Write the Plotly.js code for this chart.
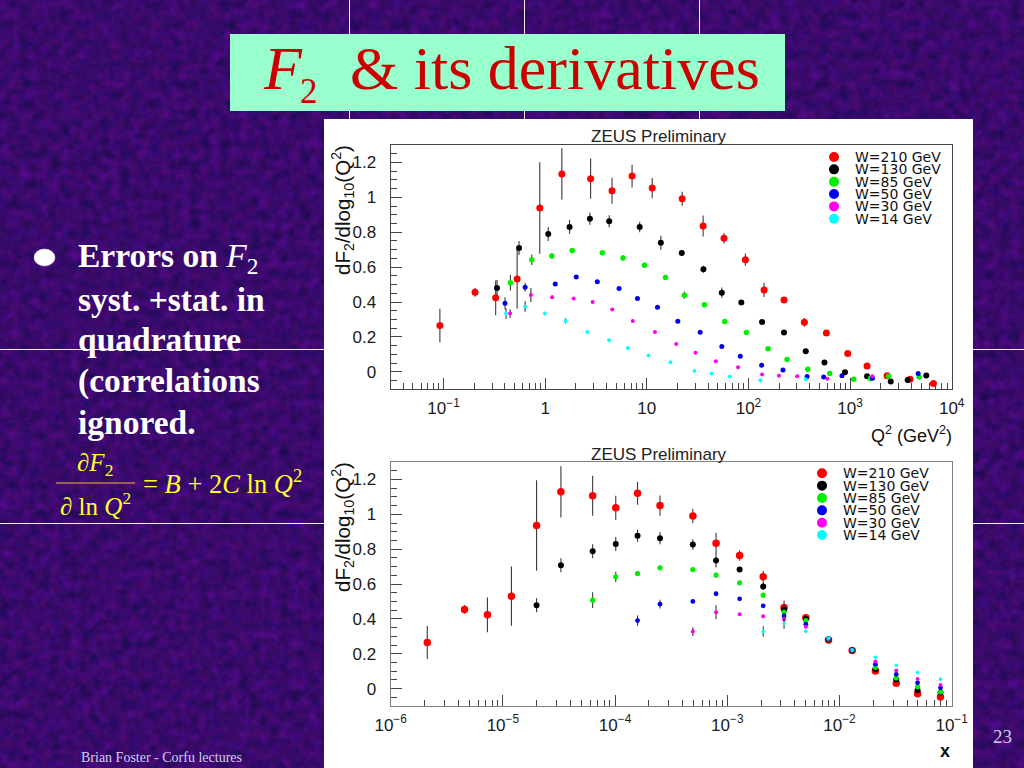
<!DOCTYPE html>
<html>
<head>
<meta charset="utf-8">
<script src="https://cdn.plot.ly/plotly-3.0.1.min.js"></script>
<style>
html,body{margin:0;padding:0;width:1024px;height:768px;overflow:hidden;background:#3a0a70;}
#bg{position:absolute;left:0;top:0;width:1024px;height:768px;}
#chart{position:absolute;left:0;top:0;width:1024px;height:768px;}
</style>
</head>
<body>
<svg id="bg" width="1024" height="768" xmlns="http://www.w3.org/2000/svg">
  <filter id="mottle" x="0" y="0" width="100%" height="100%" color-interpolation-filters="sRGB">
    <feTurbulence type="fractalNoise" baseFrequency="0.1" numOctaves="4" seed="11"/>
    <feColorMatrix type="matrix" values="0.25 0.1 0 0 0.05  0 0 0 0 0.04  0.15 0.22 0 0 0.24  0 0 0 0 1"/>
  </filter>
  <rect width="1024" height="768" filter="url(#mottle)"/>
</svg>
<div id="chart"></div>
<script>
// ---------- upper panel: dF2/dlog10(Q2) against Q2, values read as log10(Q2)
var logQ210 = [-1.036,-0.69,-0.487,-0.276,-0.053,0.164,0.447,0.658,0.855,1.053,1.348,1.554,1.76,1.97,2.154,2.35,2.55,2.767,2.977,3.167,3.364,3.59,3.82];
var valQ210 = [0.265,0.456,0.424,0.532,0.939,1.134,1.107,1.038,1.122,1.053,0.992,0.836,0.765,0.643,0.469,0.412,0.284,0.223,0.105,0.034,-0.023,-0.042,-0.067];
var errQ210 = [0.096,0.025,0.1,0.17,0.262,0.147,0.115,0.075,0.065,0.058,0.04,0.06,0.03,0.035,0.04,0.012,0.025,0.01,0.008,0.008,0.008,0.008,0.008];
var logQ130 = [-0.474,-0.257,0.03,0.24,0.44,0.63,0.93,1.138,1.344,1.557,1.738,1.93,2.134,2.35,2.564,2.748,2.95,3.167,3.40,3.567,3.75];
var valQ130 = [0.481,0.71,0.79,0.83,0.878,0.863,0.83,0.74,0.681,0.588,0.454,0.397,0.286,0.225,0.118,0.053,-0.002,-0.025,-0.055,-0.046,-0.021];
var errQ130 = [0.045,0.04,0.04,0.04,0.035,0.035,0.03,0.04,0.015,0.02,0.03,0.01,0.01,0.008,0.008,0.008,0.008,0.008,0.008,0.008,0.008];
var logQ85 = [-0.342,-0.132,0.066,0.266,0.5625,0.766,0.977,1.184,1.37,1.567,1.767,1.98,2.193,2.38,2.584,2.8,3.036,3.2,3.38,3.68];
var valQ85 = [0.511,0.643,0.664,0.695,0.683,0.653,0.611,0.54,0.439,0.385,0.288,0.225,0.132,0.071,0.015,-0.01,-0.042,-0.038,-0.025,-0.029];
var errQ85 = [0.045,0.03,0.015,0.015,0.012,0.015,0.015,0.01,0.02,0.012,0.008,0.008,0.008,0.008,0.008,0.008,0.008,0.008,0.008,0.008];
var logQ50 = [-0.395,-0.197,0.099,0.306,0.513,0.727,0.908,1.105,1.305,1.525,1.738,1.92,2.13,2.34,2.577,2.74,2.92,3.22,3.67];
var valQ50 = [0.393,0.485,0.504,0.544,0.517,0.477,0.42,0.37,0.29,0.227,0.145,0.09,0.038,0.01,-0.027,-0.03,-0.023,-0.036,-0.01];
var errQ50 = [0.035,0.025,0.01,0.008,0.006,0.01,0.01,0.006,0.006,0.006,0.006,0.006,0.006,0.006,0.006,0.006,0.006,0.006,0.006];
var logQ30 = [-0.345,-0.141,0.069,0.28,0.467,0.66,0.862,1.08,1.289,1.479,1.679,1.898,2.134,2.30,2.48,2.777,3.22];
var valQ30 = [0.334,0.44,0.427,0.42,0.40,0.357,0.292,0.229,0.16,0.109,0.061,0.027,-0.015,-0.023,-0.025,-0.04,-0.025];
var errQ30 = [0.025,0.04,0.01,0.006,0.006,0.006,0.006,0.006,0.006,0.006,0.006,0.006,0.006,0.006,0.006,0.006,0.006];
var logQ14 = [-0.385,-0.197,-0.003,0.2,0.414,0.628,0.8125,1.016,1.233,1.469,1.636,1.816,2.118,2.564];
var valQ14 = [0.334,0.374,0.334,0.292,0.229,0.181,0.137,0.094,0.055,0.006,-0.01,-0.027,-0.048,-0.042];
var errQ14 = [0.03,0.03,0.01,0.015,0.005,0.005,0.005,0.005,0.005,0.005,0.005,0.005,0.005,0.005];

// ---------- lower panel: dF2/dlog10(Q2) against x, values read as log10(x)
var logX210 = [-5.674,-5.342,-5.138,-4.924,-4.70,-4.483,-4.20,-3.994,-3.80,-3.60,-3.307,-3.10,-2.89,-2.68,-2.494,-2.30,-2.098,-1.887,-1.68,-1.494,-1.304,-1.10];
var valX210 = [0.264,0.454,0.423,0.53,0.936,1.129,1.106,1.037,1.12,1.05,0.99,0.834,0.764,0.641,0.465,0.406,0.278,0.218,0.101,0.031,-0.029,-0.048];
var errX210 = [0.095,0.025,0.1,0.17,0.26,0.147,0.115,0.07,0.065,0.058,0.04,0.06,0.03,0.035,0.04,0.012,0.008,0.008,0.008,0.008,0.008,0.008];
var logX130 = [-4.70,-4.483,-4.2,-3.994,-3.8,-3.6,-3.307,-3.10,-2.89,-2.68,-2.494,-2.30,-2.098,-1.887,-1.68,-1.494,-1.304,-1.10];
var valX130 = [0.478,0.708,0.788,0.829,0.877,0.863,0.827,0.735,0.683,0.586,0.454,0.40,0.281,0.218,0.111,0.052,-0.01,-0.023];
var errX130 = [0.04,0.04,0.04,0.04,0.035,0.035,0.03,0.04,0.015,0.02,0.03,0.01,0.008,0.008,0.008,0.008,0.008,0.008];
var logX85 = [-4.2,-3.994,-3.8,-3.6,-3.307,-3.10,-2.89,-2.68,-2.494,-2.30,-2.098,-1.887,-1.68,-1.494,-1.304,-1.10];
var valX85 = [0.507,0.641,0.66,0.693,0.683,0.651,0.607,0.536,0.438,0.39,0.285,0.22,0.122,0.061,0.01,-0.019];
var errX85 = [0.045,0.03,0.012,0.012,0.012,0.015,0.008,0.008,0.02,0.008,0.008,0.008,0.008,0.008,0.008,0.008];
var logX50 = [-3.8,-3.6,-3.307,-3.10,-2.89,-2.68,-2.494,-2.30,-2.098,-1.887,-1.68,-1.494,-1.304,-1.10];
var valX50 = [0.39,0.484,0.50,0.544,0.515,0.475,0.417,0.369,0.285,0.22,0.14,0.082,0.033,0.004];
var errX50 = [0.03,0.025,0.008,0.008,0.006,0.006,0.015,0.006,0.006,0.006,0.006,0.006,0.006,0.006];
var logX30 = [-3.307,-3.10,-2.89,-2.68,-2.494,-2.30,-2.098,-1.887,-1.68,-1.494,-1.304,-1.10];
var valX30 = [0.327,0.438,0.427,0.415,0.398,0.354,0.285,0.22,0.155,0.103,0.055,0.021];
var errX30 = [0.025,0.04,0.006,0.006,0.025,0.006,0.006,0.006,0.006,0.006,0.006,0.006];
var logX14 = [-2.68,-2.494,-2.30,-2.098,-1.887,-1.68,-1.494,-1.304,-1.10];
var valX14 = [0.327,0.373,0.329,0.289,0.222,0.18,0.134,0.092,0.054];
var errX14 = [0.03,0.03,0.008,0.006,0.006,0.006,0.006,0.006,0.006];

// tick positions and labels of the two log axes
var q2TickVals = [0.1,1,10,100,1000,10000];
var q2TickText = ['10<sup>\u22121</sup>','1','10','10<sup>2</sup>','10<sup>3</sup>','10<sup>4</sup>'];
var xTickVals = [1e-6,1e-5,1e-4,1e-3,1e-2,1e-1];
var xTickText = ['10<sup>\u22126</sup>','10<sup>\u22125</sup>','10<sup>\u22124</sup>','10<sup>\u22123</sup>','10<sup>\u22122</sup>','10<sup>\u22121</sup>'];

var seriesNames = ['W=210 GeV','W=130 GeV','W=85 GeV','W=50 GeV','W=30 GeV','W=14 GeV'];
var seriesColors = ['#ff0000','#000000','#00ee00','#0000ee','#ff00ee','#00ffff'];
var sizesTop = [7,6,5.5,5,4,3.8];
var sizesBot = [7.5,6,5.2,4.8,4,3.6];
var upperSets = [[logQ210,valQ210,errQ210],[logQ130,valQ130,errQ130],[logQ85,valQ85,errQ85],[logQ50,valQ50,errQ50],[logQ30,valQ30,errQ30],[logQ14,valQ14,errQ14]];
var lowerSets = [[logX210,valX210,errX210],[logX130,valX130,errX130],[logX85,valX85,errX85],[logX50,valX50,errX50],[logX30,valX30,errX30],[logX14,valX14,errX14]];

var W = 1024, H = 768;
function px(x){return x/W;}
function py(y){return 1-y/H;}

function makeTrace(set,i,xa,ya,sizes){
  return {
    type:'scatter', mode:'markers', name:seriesNames[i], xaxis:xa, yaxis:ya, showlegend:false,
    x:set[0].map(function(v){return Math.pow(10,v);}), y:set[1],
    error_y:{type:'data', array:set[2], visible:true, color:'#3a3a3a', thickness:1.1, width:0},
    marker:{color:seriesColors[i], size:sizes[i], line:{width:0}}
  };
}
var traces = [];
upperSets.forEach(function(s,i){traces.push(makeTrace(s,i,'x','y',sizesTop));});
lowerSets.forEach(function(s,i){traces.push(makeTrace(s,i,'x2','y2',sizesBot));});

var sans = '"Liberation Sans", Arial, sans-serif';
var serif = '"Liberation Serif", "Times New Roman", serif';
function minorLogTicks(lo,hi){
  var out = [];
  for (var d=lo; d<hi; d++) for (var m=2; m<=9; m++) out.push(m*Math.pow(10,d));
  return out;
}
function xAxis(range,domain,anchor,col,vals,text){
  return {type:'log', range:range, domain:domain, anchor:anchor, tickmode:'array', tickvals:vals, ticktext:text,
    ticks:'inside', ticklen:11, tickwidth:1.2, tickcolor:'#444', showgrid:false, zeroline:false,
    showline:true, mirror:true, linecolor:col, linewidth:1.3, ticklabelstandoff:3,
    tickfont:{family:sans,size:17,color:'#1a1a1a'},
    minor:{ticks:'inside', ticklen:6, tickwidth:1.1, tickcolor:'#444', tickmode:'array',
      tickvals:minorLogTicks(Math.floor(range[0]),range[1]), showgrid:false}};
}
function yAxis(domain,anchor,col){
  return {range:[-0.1,1.3], domain:domain, anchor:anchor, dtick:0.2, tick0:0,
    ticks:'inside', ticklen:11, tickwidth:1.2, tickcolor:'#444', showgrid:false, zeroline:false,
    showline:true, mirror:true, linecolor:col, linewidth:1.3, ticklabelstandoff:10,
    tickfont:{family:sans,size:17,color:'#1a1a1a'},
    minor:{ticks:'inside', ticklen:6, tickwidth:1.1, tickcolor:'#444', dtick:0.05, showgrid:false}};
}

function note(text,x,y,size,color,o){
  o = o||{};
  return {text:text, xref:'paper', yref:'paper', x:px(x), y:py(y), showarrow:false,
    xanchor:o.xa||'left', yanchor:'middle', textangle:o.angle||0,
    font:{family:o.family||serif, size:size, color:color}};
}
function rule(x0,y0,x1,y1,color,w){
  return {type:'line', xref:'paper', yref:'paper', x0:px(x0), y0:py(y0), x1:px(x1), y1:py(y1), layer:'below', line:{color:color,width:w}};
}
function box(x0,y0,x1,y1,color){
  return {type:'rect', xref:'paper', yref:'paper', x0:px(x0), y0:py(y0), x1:px(x1), y1:py(y1), layer:'below', fillcolor:color, line:{width:0}};
}

var shapes = [
  rule(0,349.5,1024,349.5,'#f4eefc',1.2), rule(0,523.5,1024,523.5,'#f4eefc',1.2),
  rule(349.5,0,349.5,120,'#f4eefc',1), rule(524.5,0,524.5,120,'#f4eefc',1), rule(699.5,0,699.5,120,'#f4eefc',1),
  box(324,119,973,768,'#ffffff'),
  box(230,34,785,111,'#99ffcc'),
  {type:'circle', xref:'paper', yref:'paper', x0:px(34), x1:px(55), y0:py(249), y1:py(266), layer:'above', fillcolor:'#ffffff', line:{color:'#dcdcdc',width:0.5}},
  {type:'line', xref:'paper', yref:'paper', x0:px(56), x1:px(135), y0:py(483), y1:py(483), layer:'above', line:{color:'#e8c020',width:1.2}}
];

var annotations = [
  note('<i>F</i>',261,68,62,'#cc0000'),
  note('2',298,91,35,'#cc0000'),
  note('& its derivatives',348,68,62,'#cc0000'),
  note('<b>Errors on </b><i>F</i><sub>2</sub>',76,258,33.5,'#ffffff'),
  note('<b>syst. +stat. in</b>',76,299,33.5,'#ffffff'),
  note('<b>quadrature</b>',76,340,33.5,'#ffffff'),
  note('<b>(correlations</b>',76,381,33.5,'#ffffff'),
  note('<b>ignored.</b>',76,422,33.5,'#ffffff'),
  note('\u2202<i>F</i><sub>2</sub>',95,464,25,'#ffff33',{xa:'center'}),
  note('\u2202 ln <i>Q</i><sup>2</sup>',95,504,25,'#ffff33',{xa:'center'}),
  note('= <i>B</i> + 2<i>C</i> ln <i>Q</i><sup>2</sup>',141,482,26.5,'#ffff33'),
  note('Brian Foster - Corfu lectures',79,757,14,'#d6cdf5'),
  note('23',991,736,19,'#d6cdf5'),
  note('ZEUS Preliminary',658.5,137,17,'#222222',{xa:'center',family:sans}),
  note('ZEUS Preliminary',658.5,454,17,'#222222',{xa:'center',family:sans}),
  note('dF<sub>2</sub>/dlog<sub>10</sub>(Q<sup>2</sup>)',342,210,20.5,'#111111',{xa:'center',family:sans,angle:-90}),
  note('dF<sub>2</sub>/dlog<sub>10</sub>(Q<sup>2</sup>)',342,527,20.5,'#111111',{xa:'center',family:sans,angle:-90}),
  note('Q<sup>2</sup> (GeV<sup>2</sup>)',954,434,18,'#111111',{xa:'right',family:sans}),
  note('<b>x</b>',952,751,18,'#111111',{xa:'right',family:sans})
];

var legendX = [[834,853],[822,841]];
var legendY = [[157,12.35],[473.3,12.35]];
legendX.forEach(function(lx,p){
  seriesNames.forEach(function(n,i){
    var cy = legendY[p][0]+legendY[p][1]*i;
    shapes.push({type:'circle', xref:'paper', yref:'paper', x0:px(lx[0]-5), x1:px(lx[0]+5), y0:py(cy-5), y1:py(cy+5), layer:'above', fillcolor:seriesColors[i], line:{width:0}});
    annotations.push(note(n,lx[1],cy,14,'#111111',{family:'"DejaVu Sans", sans-serif'}));
  });
});

var layout = {
  width:W, height:H, margin:{l:0,r:0,t:0,b:0}, autosize:false,
  paper_bgcolor:'rgba(0,0,0,0)', plot_bgcolor:'rgba(0,0,0,0)', showlegend:false, hovermode:false,
  xaxis:xAxis([-1.52,4],[390.7/W,951.7/W],'y','#444',q2TickVals,q2TickText),
  yaxis:yAxis([py(389.3),py(145)],'x','#444'),
  xaxis2:xAxis([-6,-1],[390.7/W,951.7/W],'y2','#808080',xTickVals,xTickText),
  yaxis2:yAxis([py(706),py(462)],'x2','#808080'),
  shapes:shapes, annotations:annotations
};
Plotly.newPlot('chart',traces,layout,{displayModeBar:false,responsive:false});
</script>
</body>
</html>
